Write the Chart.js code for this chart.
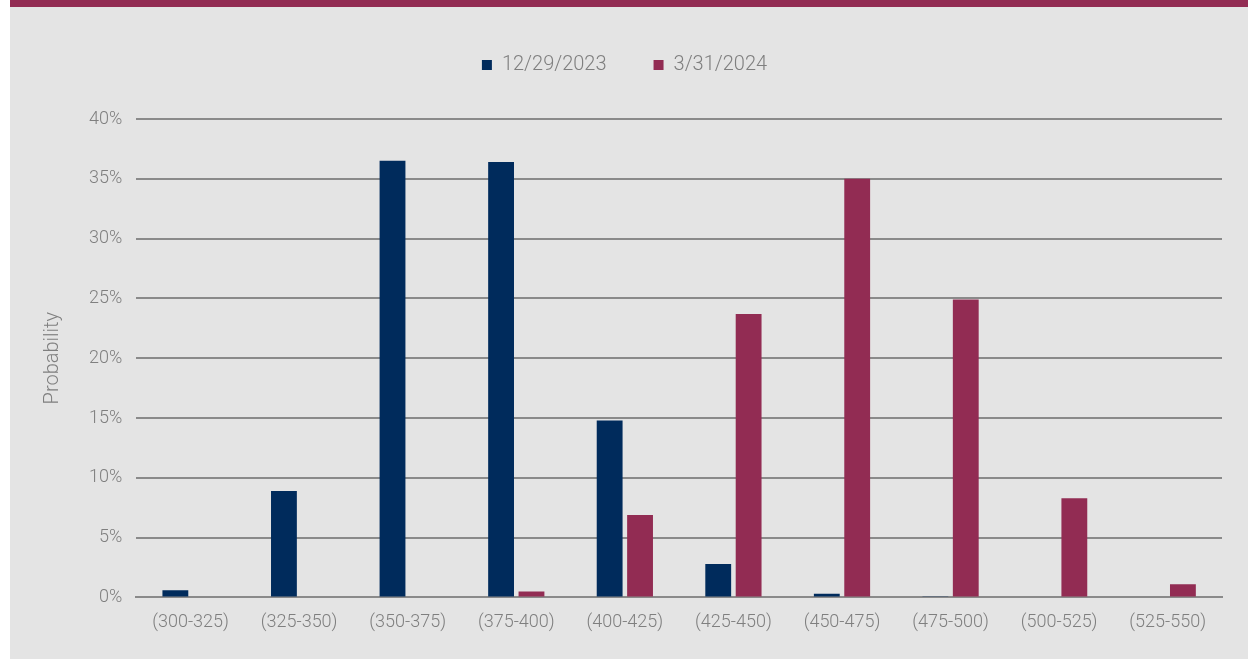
<!DOCTYPE html>
<html>
<head>
<meta charset="utf-8">
<script src="https://cdn.jsdelivr.net/npm/chart.js@4"></script>
<style>
  html, body { margin: 0; padding: 0; background: #ffffff; }
  #frame {
    position: absolute; left: 10px; top: 0; width: 1238px; height: 659px; overflow: hidden;
    background: #e4e4e4; border-top: 7px solid #922c53; box-sizing: border-box;
  }
  #wrap { position: absolute; left: 0; top: 1px; width: 1238px; height: 651px; }
</style>
</head>
<body>
<div id="frame"><div id="wrap"><canvas id="myChart"></canvas></div></div>
<script>
const categories = ["(300-325)", "(325-350)", "(350-375)", "(375-400)", "(400-425)",
  "(425-450)", "(450-475)", "(475-500)", "(500-525)", "(525-550)"];
const dec2023 = [0.6, 8.9, 36.5, 36.4, 14.8, 2.8, 0.3, 0.1, 0, 0];
const mar2024 = [0, 0, 0, 0.5, 6.9, 23.7, 35.0, 24.9, 8.3, 1.1];

const textColor = "#7f7f7f";
const fontFamily = "Roboto, 'Liberation Sans', sans-serif";

const data = {
  labels: categories,
  datasets: [
    { label: "12/29/2023", data: dec2023, backgroundColor: "#002b5c" },
    { label: "3/31/2024", data: mar2024, backgroundColor: "#922c53" },
  ],
};

// legend keeps its wide horizontal gap but a shorter box
const legendHeight = {
  id: "legendHeight",
  beforeInit(chart) {
    const fit = chart.legend.fit;
    chart.legend.fit = function () {
      fit.bind(chart.legend)();
      this.height = 111;
    };
  },
};

const config = {
  type: "bar",
  data,
  options: {
    responsive: true,
    maintainAspectRatio: false,
    animation: false,
    layout: { padding: { left: 17, right: 26, top: 0, bottom: 20 } },
    datasets: { bar: { categoryPercentage: 0.56, barPercentage: 0.85 } },
    scales: {
      x: {
        grid: { display: false },
        border: { color: "#8a8a8a", width: 2 },
        ticks: { color: textColor, font: { family: fontFamily, size: 18, weight: 300 }, padding: 6 },
      },
      y: {
        min: 0,
        max: 40,
        ticks: {
          stepSize: 5,
          color: textColor,
          padding: 14,
          font: { family: fontFamily, size: 18, weight: 300 },
          callback: (v) => v + "%",
        },
        grid: { color: "#8a8a8a", lineWidth: 2, drawTicks: false },
        border: { display: false },
        title: {
          display: true,
          text: "Probability",
          color: textColor,
          padding: { top: 14, bottom: 10 },
          font: { family: fontFamily, size: 20, weight: 300 },
        },
      },
    },
    plugins: {
      legend: {
        position: "top",
        labels: {
          boxWidth: 10,
          boxHeight: 10,
          padding: 47,
          color: textColor,
          font: { family: fontFamily, size: 20, weight: 300 },
        },
      },
      tooltip: { enabled: false },
    },
  },
  plugins: [legendHeight],
};

const myChart = new Chart(document.getElementById("myChart"), config);
</script>
</body>
</html>
